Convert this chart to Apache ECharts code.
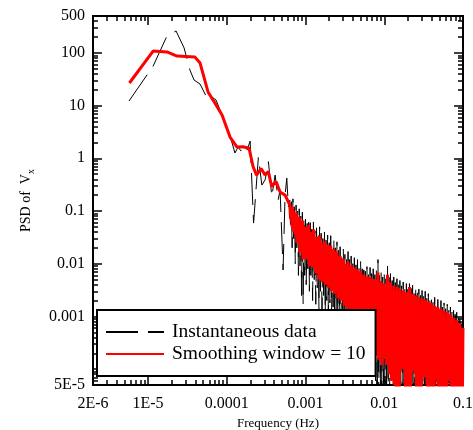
<!DOCTYPE html>
<html>
<head>
<meta charset="utf-8">
<script src="https://cdn.jsdelivr.net/npm/echarts@6/dist/echarts.min.js"></script>
<style>
  html, body { margin: 0; padding: 0; background: #fff; }
  #chart { width: 473px; height: 430px; }
</style>
</head>
<body>
<div id="chart"></div>
<script>
// low frequency part
const instLowFreq = [5.73e-6, 1.16e-5, 1.74e-5, 2.27e-5, 2.87e-5, 3.41e-5, 3.84e-5, 4.58e-5, 5.14e-5, 5.78e-5,
  6.5e-5, 7.31e-5, 8.71e-5, 1.01e-4, 1.13e-4, 1.27e-4, 1.39e-4, 1.52e-4, 1.66e-4, 1.81e-4,
  1.98e-4, 2.19e-4, 2.52e-4, 2.79e-4, 3.07e-4, 3.38e-4, 3.73e-4, 4.11e-4, 4.49e-4, 4.75e-4,
  5.19e-4, 5.5e-4, 5.78e-4, 6.06e-4];
const instLowPsd = [12.2, 56, 209, 260, 124, 47, 30.5, 25.6, 18.1, 12.7,
  14.5, 12.7, 6.6, 3.92, 2.32, 1.26, 1.63, 1.37, 1.71, 1.43,
  2.12, 0.059, 1.06, 0.31, 0.39, 0.86, 0.186, 0.48, 0.161, 0.25,
  0.0076, 0.2, 0.42, 0.12];

const smoothLowFreq = [5.8e-6, 1.16e-5, 1.74e-5, 2.33e-5, 3.95e-5, 4.58e-5, 5.78e-5, 6.7e-5, 8.71e-5, 1.1e-4,
  1.35e-4, 1.6e-4, 1.92e-4, 2.16e-4, 2.39e-4, 2.73e-4, 3.06e-4, 3.37e-4, 3.72e-4, 4.23e-4,
  4.75e-4, 5.5e-4];
const smoothLowPsd = [26.8, 108, 104, 87, 83, 64, 18.1, 12.7, 6.6, 2.53,
  1.63, 1.66, 1.55, 0.69, 0.48, 0.64, 0.48, 0.56, 0.29, 0.36,
  0.23, 0.20];

// dense part: frequency bins inside one decade (mantissa), reused for 1e-4 (tail), 1e-3 and 1e-2
const binMantissa = [
  1.00, 1.02, 1.05, 1.07, 1.10, 1.12, 1.15, 1.17, 1.20, 1.23,
  1.26, 1.29, 1.32, 1.35, 1.38, 1.41, 1.45, 1.48, 1.51, 1.55,
  1.58, 1.62, 1.66, 1.70, 1.74, 1.78, 1.82, 1.86, 1.91, 1.95,
  2.00, 2.04, 2.09, 2.14, 2.19, 2.24, 2.29, 2.34, 2.40, 2.45,
  2.51, 2.57, 2.63, 2.69, 2.75, 2.82, 2.88, 2.95, 3.02, 3.09,
  3.16, 3.24, 3.31, 3.39, 3.47, 3.55, 3.63, 3.72, 3.80, 3.89,
  3.98, 4.07, 4.17, 4.27, 4.37, 4.47, 4.57, 4.68, 4.79, 4.90,
  5.01, 5.13, 5.25, 5.37, 5.50, 5.62, 5.75, 5.89, 6.03, 6.17,
  6.31, 6.46, 6.61, 6.76, 6.92, 7.08, 7.24, 7.41, 7.59, 7.76,
  7.94, 8.13, 8.32, 8.51, 8.71, 8.91, 9.12, 9.33, 9.55, 9.77];
const denseEnd = 0.1;

// instantaneous PSD on those bins: 6.31e-4..9.77e-4, then 1e-3 decade, then 1e-2 decade, then 0.1
const instDensePsd = [
  0.16, 0.05, 0.15, 0.02, 0.17, 0.03, 0.12, 0.01, 0.13, 0.02,
  0.1, 0.006, 0.11, 0.009, 0.08, 0.0025, 0.095, 0.0017, 0.075, 0.006,

  0.07, 0.004, 0.058, 0.008, 0.075, 0.003, 0.06, 0.006, 0.045, 0.002,
  0.062, 0.005, 0.042, 0.0017, 0.048, 0.0035, 0.036, 0.0014, 0.05, 0.003,
  0.038, 0.0013, 0.03, 0.0025, 0.04, 0.0012, 0.028, 0.002, 0.035, 0.0011,
  0.025, 0.0018, 0.034, 0.001, 0.022, 0.0015, 0.029, 0.0009, 0.02, 0.0013,
  0.026, 0.0008, 0.018, 0.0011, 0.021, 0.0007, 0.015, 0.001, 0.019, 0.0006,
  0.015, 0.0009, 0.012, 0.0005, 0.017, 0.0008, 0.012, 0.0004, 0.014, 0.0007,
  0.01, 0.0003, 0.013, 0.0006, 0.0095, 0.00025, 0.012, 0.0005, 0.0085, 0.0002,
  0.011, 0.0004, 0.008, 0.00015, 0.0095, 0.0003, 0.0072, 0.00012, 0.0088, 0.00025,
  0.007, 0.0001, 0.0085, 0.0002, 0.0065, 8e-5, 0.008, 0.00015, 0.0062, 6e-5,
  0.0078, 3e-5, 0.012, 2.5e-5, 0.006, 4e-5, 0.007, 2e-5, 0.0056, 3e-5,

  0.0062, 2e-5, 0.0052, 3e-5, 0.009, 2e-5, 0.0055, 3e-5, 0.0065, 2e-5,
  0.0048, 2.5e-5, 0.0056, 2e-5, 0.0044, 1.5e-5, 0.0052, 1.2e-5, 0.0041, 1.5e-5,
  0.0048, 2e-5, 0.0038, 1.5e-5, 0.0045, 2e-5, 0.0036, 1.2e-5, 0.0042, 1.2e-5,
  0.0033, 1.2e-5, 0.0052, 1.1e-5, 0.0034, 1.5e-5, 0.0039, 2e-5, 0.003, 1.5e-5,
  0.0036, 1.1e-5, 0.0028, 1.1e-5, 0.0033, 1.1e-5, 0.0025, 1e-5, 0.0031, 1.5e-5,
  0.0024, 1.8e-5, 0.003, 1.5e-5, 0.0022, 1e-5, 0.0027, 1e-5, 0.002, 1e-5,
  0.0025, 1e-5, 0.0019, 1e-5, 0.0023, 1.5e-5, 0.0017, 1.5e-5, 0.0021, 1e-5,
  0.0016, 1e-5, 0.002, 1e-5, 0.0015, 1e-5, 0.0018, 1e-5, 0.0014, 1e-5,
  0.0017, 1.5e-5, 0.0013, 1.5e-5, 0.0015, 1e-5, 0.0012, 1e-5, 0.0013, 1e-5,
  0.0011, 1e-5, 0.0012, 1e-5, 0.001, 1e-5, 0.0011, 1e-5, 0.0009, 1e-5,

  0.0009];

// smoothed PSD on the same bins
const smoothDensePsd = [
  0.13, 0.07, 0.11, 0.05, 0.12, 0.04, 0.085, 0.035, 0.095, 0.025,
  0.07, 0.03, 0.078, 0.016, 0.055, 0.02, 0.066, 0.012, 0.05, 0.015,

  0.05, 0.012, 0.038, 0.016, 0.055, 0.009, 0.04, 0.013, 0.03, 0.0085,
  0.045, 0.011, 0.028, 0.0065, 0.032, 0.009, 0.024, 0.005, 0.034, 0.0075,
  0.025, 0.0045, 0.02, 0.006, 0.027, 0.004, 0.019, 0.0055, 0.023, 0.0035,
  0.016, 0.005, 0.022, 0.003, 0.015, 0.0045, 0.019, 0.0027, 0.013, 0.004,
  0.017, 0.0022, 0.012, 0.0035, 0.014, 0.002, 0.0095, 0.003, 0.0125, 0.0016,
  0.01, 0.0028, 0.0078, 0.0014, 0.011, 0.0024, 0.0082, 0.0012, 0.0095, 0.002,
  0.0068, 0.001, 0.0085, 0.0018, 0.0062, 0.0009, 0.0078, 0.0016, 0.0055, 0.0008,
  0.0072, 0.0014, 0.0052, 0.0007, 0.0062, 0.0012, 0.0048, 0.0006, 0.0058, 0.001,
  0.0045, 0.0005, 0.0056, 0.0009, 0.0042, 0.0004, 0.0052, 0.0008, 0.004, 0.0003,
  0.005, 0.00018, 0.0068, 0.00015, 0.0038, 0.0002, 0.0046, 0.00012, 0.0036, 0.00016,

  0.0042, 0.00016, 0.0034, 0.00012, 0.0062, 0.00014, 0.0036, 8e-5, 0.0044, 6e-5,
  0.0031, 7e-5, 0.0038, 5e-5, 0.0029, 2e-5, 0.0036, 1.8e-5, 0.0027, 2e-5,
  0.0033, 0.00012, 0.0025, 0.0001, 0.0031, 0.00013, 0.0024, 2e-5, 0.0029, 1.6e-5,
  0.0022, 1.8e-5, 0.0036, 1.5e-5, 0.0023, 9e-5, 0.0027, 0.0001, 0.002, 8e-5,
  0.0025, 1.5e-5, 0.0019, 1.4e-5, 0.0023, 1.5e-5, 0.0017, 1.3e-5, 0.0022, 8e-5,
  0.0016, 7e-5, 0.0021, 9e-5, 0.0015, 1.3e-5, 0.0019, 1.2e-5, 0.0014, 1.2e-5,
  0.0018, 1.1e-5, 0.0013, 1.2e-5, 0.0016, 7e-5, 0.0012, 6e-5, 0.0015, 1.1e-5,
  0.0011, 1e-5, 0.0014, 1.1e-5, 0.001, 1e-5, 0.0013, 1e-5, 0.00095, 1e-5,
  0.0012, 6e-5, 0.00088, 6e-5, 0.0011, 1e-5, 0.0008, 1e-5, 0.00095, 1e-5,
  0.00072, 1e-5, 0.00085, 1e-5, 0.00065, 1e-5, 0.00075, 1e-5, 0.0006, 1e-5,

  0.0006];

const seriesNames = ["Instantaneous data", "Smoothing window = 10"];

const xMin = 2e-6, xMax = 0.1;
const yMin = 5e-5, yMax = 500;
const xLabelVals = [2e-6, 1e-5, 1e-4, 1e-3, 1e-2, 0.1];
const xLabelText = ["2E-6", "1E-5", "0.0001", "0.001", "0.01", "0.1"];
const yLabelVals = [5e-5, 1e-3, 1e-2, 0.1, 1, 10, 100, 500];
const yLabelText = ["5E-5", "0.001", "0.01", "0.1", "1", "10", "100", "500"];
const xMajor = [1e-5, 1e-4, 1e-3, 1e-2, 0.1];
const yMajor = [1e-4, 1e-3, 1e-2, 0.1, 1, 10, 100];

const fontFam = '"Liberation Serif", "Times New Roman", serif';

const denseFreq = binMantissa.slice(80).map((m) => m * 1e-4)
  .concat(binMantissa.map((m) => m * 1e-3))
  .concat(binMantissa.map((m) => m * 1e-2))
  .concat([denseEnd]);

function zip(fs, ps) {
  return fs.map((f, i) => [f, ps[i]]);
}

// 2..9 in every decade, inside the axis range
function minorTicks(lo, hi) {
  const out = [];
  for (let d = -7; d <= 3; d++) {
    for (let m = 2; m <= 9; m++) {
      const v = Number((m * Math.pow(10, d)).toPrecision(3));
      if (v > lo * 1.0001 && v < hi * 0.9999) out.push(v);
    }
  }
  return out;
}

function labelFor(vals, texts) {
  return (v) => {
    for (let i = 0; i < vals.length; i++) {
      if (Math.abs(Math.log10(v) - Math.log10(vals[i])) < 1e-3) return texts[i];
    }
    return "";
  };
}

function logAxis(pos, lo, hi, ticks, len, extra) {
  return Object.assign({
    type: "log",
    gridIndex: 0,
    position: pos,
    min: lo,
    max: hi,
    axisLine: { show: true, onZero: false, lineStyle: { color: "#000", width: 2 } },
    axisTick: { show: true, inside: true, length: len, customValues: ticks,
      lineStyle: { color: "#000", width: 1.5 } },
    axisLabel: { show: false },
    splitLine: { show: false },
    minorTick: { show: false },
    minorSplitLine: { show: false },
  }, extra || {});
}

const xMinor = minorTicks(xMin, xMax);
const yMinor = minorTicks(yMin, yMax);

const chart = echarts.init(document.getElementById("chart"), null, { renderer: "canvas" });

const option = {
  animation: false,
  backgroundColor: "#fff",
  grid: { left: 93, right: 10, top: 16, bottom: 45, containLabel: false, outerBoundsMode: "none" },
  legend: {
    data: seriesNames,
    orient: "vertical",
    left: 97,
    top: 310,
    itemWidth: 58,
    itemHeight: 14,
    itemGap: 0,
    padding: [11, 10, 11, 8],
    backgroundColor: "#fff",
    borderColor: "#000",
    borderWidth: 2,
    borderRadius: 0,
    selectedMode: false,
    // hide the round marker, keep only the line sample
    itemStyle: { color: "rgba(0,0,0,0)", borderColor: "rgba(0,0,0,0)", borderWidth: 0 },
    textStyle: { fontFamily: fontFam, fontSize: 19.5, color: "#000", lineHeight: 22, padding: [0, 0, 0, 3] },
  },
  xAxis: [
    logAxis("bottom", xMin, xMax, xMajor, 9, {
      name: "Frequency (Hz)",
      nameLocation: "middle",
      nameGap: 30,
      nameTextStyle: { fontFamily: fontFam, fontSize: 13, color: "#000" },
      axisLabel: {
        show: true, margin: 11, customValues: xLabelVals,
        formatter: labelFor(xLabelVals, xLabelText),
        fontFamily: fontFam, fontSize: 16, color: "#000",
      },
    }),
    logAxis("bottom", xMin, xMax, xMinor, 5),
    logAxis("top", xMin, xMax, xMajor, 9),
    logAxis("top", xMin, xMax, xMinor, 5),
  ],
  yAxis: [
    logAxis("left", yMin, yMax, yMajor, 9, {
      name: "PSD of  V{s|x}",
      nameLocation: "middle",
      nameGap: 57,
      nameTextStyle: {
        fontFamily: fontFam, fontSize: 14, color: "#000", lineHeight: 20,
        rich: { s: { fontFamily: fontFam, fontSize: 10, color: "#000", lineHeight: 10, verticalAlign: "bottom" } },
      },
      axisLabel: {
        show: true, margin: 8, customValues: yLabelVals,
        formatter: labelFor(yLabelVals, yLabelText),
        fontFamily: fontFam, fontSize: 16, color: "#000",
      },
    }),
    logAxis("left", yMin, yMax, yMinor, 5),
    logAxis("right", yMin, yMax, yMajor, 9),
    logAxis("right", yMin, yMax, yMinor, 5),
  ],
  series: [
    {
      name: seriesNames[0],
      type: "line",
      xAxisIndex: 0,
      yAxisIndex: 0,
      data: zip(instLowFreq, instLowPsd).concat(zip(denseFreq, instDensePsd)),
      symbol: "none",
      clip: true,
      lineStyle: { color: "#000", width: 1, type: [32, 10] },
      itemStyle: { color: "#000" },
    },
    {
      name: seriesNames[1],
      type: "line",
      xAxisIndex: 0,
      yAxisIndex: 0,
      data: zip(smoothLowFreq, smoothLowPsd).concat(zip(denseFreq, smoothDensePsd)),
      symbol: "none",
      clip: true,
      lineStyle: { color: "#ff0000", width: 3, join: "bevel" },
      itemStyle: { color: "#ff0000" },
    },
  ],
};

chart.setOption(option);
</script>
</body>
</html>
